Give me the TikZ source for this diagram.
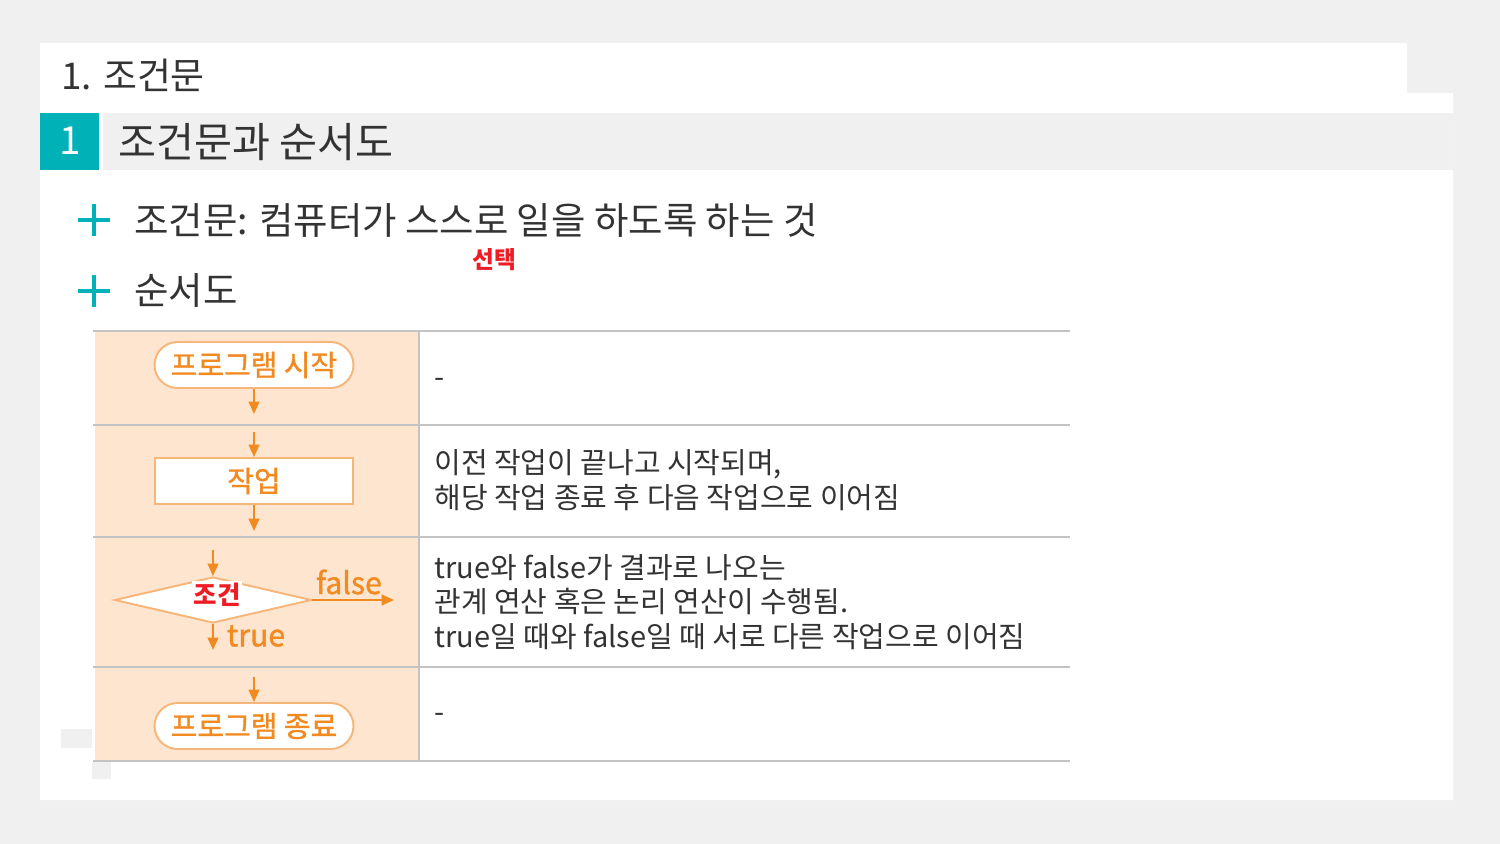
\documentclass[tikz,border=0pt]{standalone}
\usepackage{fontspec}
\setmainfont{Noto Sans CJK KR}
\newfontfamily\semibold[FakeBold=1.2]{Noto Sans CJK KR}
\usetikzlibrary{shapes.geometric,arrows.meta}
\definecolor{bgc}{HTML}{F0F0F0}
\definecolor{tealc}{HTML}{00B2B8}
\definecolor{peach}{HTML}{FDE5CF}
\definecolor{orangec}{HTML}{F28A22}
\definecolor{boxline}{HTML}{F6B67A}
\definecolor{redc}{HTML}{EE1C25}
\definecolor{txt}{HTML}{333333}
\definecolor{rulec}{HTML}{C3C3C3}
\tikzset{
  arr/.style={draw=orangec, line width=1.2pt, -{Triangle[width=6pt,length=7pt]}},
  term/.style={draw=boxline, fill=white, line width=1.1pt, rounded corners=0.46cm,
    minimum width=3.98cm, minimum height=0.92cm, text=orangec,
    font=\fontsize{16.5}{19}\semibold, inner sep=0},
  procbox/.style={draw=boxline, fill=white, line width=1.1pt,
    minimum width=3.96cm, minimum height=0.92cm, text=orangec,
    font=\fontsize{16.5}{19}\semibold, inner sep=0},
  desc/.style={anchor=west, align=left, text=txt, inner sep=0,
    font=\fontsize{16.5}{19.8}\selectfont},
  rulel/.style={draw=rulec, line width=1.5pt},
  plusbar/.style={draw=tealc, line width=2.3pt},
  olabel/.style={text=orangec, inner sep=0, font=\fontsize{17.2}{19}\semibold},
}
\begin{document}
\begin{tikzpicture}[x=0.02cm,y=-0.02cm]
\useasboundingbox (0,0) rectangle (1500,844);
% backgrounds
\fill[bgc] (0,0) rectangle (1500,844);
\fill[white] (40,43) -- (1407,43) -- (1407,93) -- (1453,93) -- (1453,800) -- (40,800) -- cycle;
\fill[bgc] (103,113) rectangle (1453,170);
\fill[tealc] (40,113) rectangle (99,170);
% small artifacts
\fill[bgc] (61,729) rectangle (92,748);
\fill[bgc] (92,762) rectangle (111,779);
% titles
\node[anchor=west, text=txt, inner sep=0, font=\fontsize{21}{25}\selectfont] (title) at (61,75) {1. 조건문};
\node[text=white, inner sep=0, font=\fontsize{22}{26}\selectfont] (num) at (70,141) {1};
\node[anchor=west, text=txt, inner sep=0, font=\fontsize{23.5}{27}\selectfont] (sec) at (118,142) {조건문과 순서도};
% bullets
\draw[plusbar] (78,220) -- (110,220);
\draw[plusbar] (94,204) -- (94,236);
\draw[plusbar] (78,291) -- (110,291);
\draw[plusbar] (94,275) -- (94,307);
\node[anchor=west, text=txt, inner sep=0, font=\fontsize{21.3}{25}\selectfont] (b1) at (134,221) {조건문: 컴퓨터가 스스로 일을 하도록 하는 것};
\node[anchor=west, text=txt, inner sep=0, font=\fontsize{21.3}{25}\selectfont] (b2) at (134,291) {순서도};
\node[text=redc, inner sep=0, font=\fontsize{13.5}{16}\selectfont\bfseries] (sel) at (494,260) {선택};
% table
\fill[peach] (95,331) rectangle (419,761);
\draw[rulel] (93,331) -- (1070,331);
\draw[rulel] (93,425) -- (1070,425);
\draw[rulel] (93,537) -- (1070,537);
\draw[rulel] (93,667) -- (1070,667);
\draw[rulel] (93,761) -- (1070,761);
\draw[rulel] (419,331) -- (419,761);
% row 1
\node[term] (start) at (254,365) {프로그램 시작};
\coordinate (s1) at (254,414);
\draw[arr] (start.south) -- (s1);
\node[desc] (d1) at (434,383) {-};
% row 2
\coordinate (p0) at (254,432);
\node[procbox] (proc) at (254,481) {작업};
\coordinate (p1) at (254,531);
\draw[arr] (p0) -- (proc.north);
\draw[arr] (proc.south) -- (p1);
\node[desc] (d2) at (434,480) {이전 작업이 끝나고 시작되며,\\해당 작업 종료 후 다음 작업으로 이어짐};
% row 3
\coordinate (c0) at (213,550);
\node[diamond, draw=boxline, fill=white, line width=1.1pt, inner sep=0,
      minimum width=3.94cm, minimum height=0.92cm] (cond) at (213,600) {};
\coordinate (cf) at (394,600);
\coordinate (ct) at (213,650);
\draw[arr] (c0) -- (cond.north);
\draw[arr] (cond.east) -- (cf);
\draw[arr] (cond.south) -- (ct);
\node[fill=white, text=redc, inner sep=1pt, font=\fontsize{14.5}{16}\selectfont\bfseries] (condl) at (217,595) {조건};
\node[olabel] (fl) at (349,582) {false};
\node[olabel] (tl) at (256,636) {true};
\node[desc] (d3) at (434,602) {true와 false가 결과로 나오는\\관계 연산 혹은 논리 연산이 수행됨.\\true일 때와 false일 때 서로 다른 작업으로 이어짐};
% row 4
\coordinate (e0) at (254,677);
\node[term] (end) at (254,726) {프로그램 종료};
\draw[arr] (e0) -- (end.north);
\node[desc] (d4) at (434,718) {-};
\end{tikzpicture}
\end{document}
